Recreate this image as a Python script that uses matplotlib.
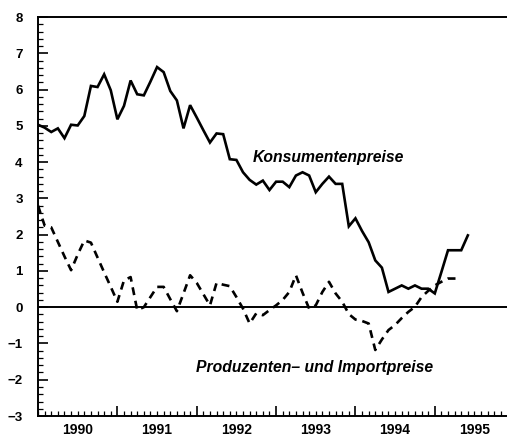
import numpy as np
import matplotlib.pyplot as plt
from matplotlib.ticker import MultipleLocator

# monthly values, starting January 1990
konsum = [5.03, 4.95, 4.83, 4.93, 4.66, 5.03, 5.01, 5.27, 6.10, 6.07, 6.42, 5.98,
          5.18, 5.55, 6.25, 5.87, 5.84, 6.22, 6.62, 6.48, 5.96, 5.70, 4.93, 5.57,
          5.23, 4.88, 4.54, 4.79, 4.77, 4.08, 4.06, 3.72, 3.51, 3.38, 3.49, 3.23,
          3.46, 3.46, 3.31, 3.63, 3.72, 3.63, 3.17, 3.40, 3.60, 3.40, 3.40, 2.23,
          2.45, 2.10, 1.79, 1.29, 1.09, 0.42, 0.51, 0.60, 0.51, 0.60, 0.51, 0.51,
          0.38, 0.97, 1.57, 1.57, 1.57, 1.98]
produzent = [2.80, 2.25, 2.20, 1.80, 1.40, 1.02, 1.45, 1.84, 1.78, 1.37, 0.96, 0.56,
             0.15, 0.74, 0.83, -0.08, 0.00, 0.28, 0.56, 0.56, 0.22, -0.11, 0.38, 0.88,
             0.67, 0.36, 0.05, 0.67, 0.62, 0.58, 0.28, -0.04, -0.45, -0.17, -0.22, -0.08,
             0.05, 0.20, 0.42, 0.88, 0.40, -0.04, 0.05, 0.42, 0.70, 0.38, 0.15, -0.19,
             -0.34, -0.38, -0.45, -1.18, -0.89, -0.63, -0.49, -0.30, -0.13, 0.01, 0.28, 0.45,
             0.60, 0.70, 0.79, 0.79, 0.79]
years = [1990, 1991, 1992, 1993, 1994, 1995]

plt.rcParams['font.family'] = ['Liberation Sans', 'DejaVu Sans']

t_konsum = 1990 + np.arange(len(konsum)) / 12
t_prod = 1990 + np.arange(len(produzent)) / 12

fig = plt.figure(figsize=(5.07, 4.42), dpi=100)
ax = fig.add_axes([0.075, 0.0588, 0.925, 0.9027])

ax.axhline(0, color='black', lw=1.4)
ax.plot(t_konsum, konsum, color='black', lw=1.9, solid_joinstyle='miter')
ax.plot(t_prod, produzent, color='black', lw=1.9, ls=(0, (3, 2.2)))

ax.set_xlim(1990, 1995.91)
ax.set_ylim(-3, 8)

ax.spines['right'].set_visible(False)
for s in ['top', 'left', 'bottom']:
    ax.spines[s].set_linewidth(1.4)

ax.yaxis.set_major_locator(MultipleLocator(1))
ax.yaxis.set_minor_locator(MultipleLocator(0.2))
ax.set_xticks(years[1:])
ax.set_xticklabels([])
ax.xaxis.set_minor_locator(MultipleLocator(1 / 12))
ax.tick_params(which='major', direction='in', length=7, width=1.2)
ax.tick_params(which='minor', direction='in', length=3.5, width=0.9)
ax.tick_params(axis='y', which='both', right=False)
ax.tick_params(axis='x', which='both', top=False)
ax.tick_params(axis='y', pad=11, labelsize=9.5)
for lab in ax.get_yticklabels():
    lab.set_fontweight('bold')

for y in years:
    ax.text(y + 0.5, -0.036, str(y), transform=ax.get_xaxis_transform(),
            ha='center', va='center', fontsize=10, fontweight='bold')

ax.text(1992.71, 4.14, 'Konsumentenpreise', ha='left', va='center',
        fontsize=11.3, fontweight='bold', style='italic')
ax.text(1991.99, -1.65, 'Produzenten\u2013 und Importpreise', ha='left', va='center',
        fontsize=11.3, fontweight='bold', style='italic')

fig.savefig('out.png', dpi=100)
